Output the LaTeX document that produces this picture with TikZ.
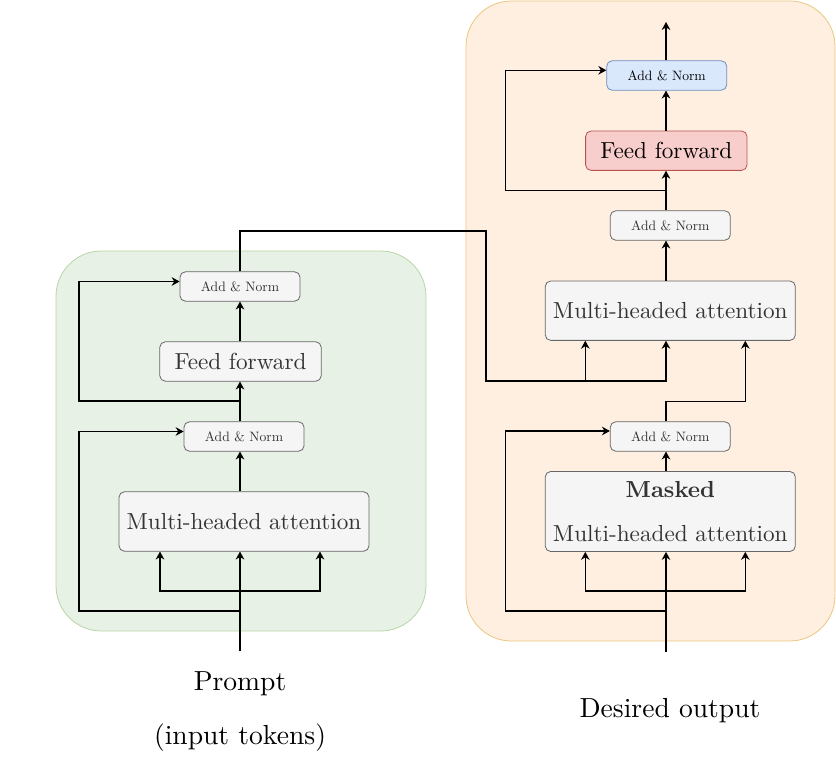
\documentclass[tikz,border=0pt]{standalone}
\usepackage{fontspec}
\setmainfont{lmroman10}[Extension=.otf, UprightFont=*-regular, BoldFont=*-bold, ItalicFont=*-italic]
\usepackage{xcolor}
\usepackage{tikz}
\usetikzlibrary{arrows.meta,calc}

\definecolor{boxfill}{HTML}{F5F5F5}
\definecolor{boxline}{HTML}{666666}
\definecolor{boxtext}{HTML}{333333}
\definecolor{encfill}{HTML}{E8F1E6}
\definecolor{encline}{HTML}{B7D5A4}
\definecolor{decfill}{HTML}{FFEFE1}
\definecolor{decline}{HTML}{EAC77E}
\definecolor{normfill}{HTML}{DAE8FC}
\definecolor{normline}{HTML}{6C8EBF}
\definecolor{fffill}{HTML}{F8CECC}
\definecolor{ffline}{HTML}{B85450}

\begin{document}
\begin{tikzpicture}[x=0.75pt, y=-0.75pt,
        blk/.style={draw=boxline, fill=boxfill, text=boxtext, rounded corners=4pt, line width=0.6pt, inner sep=0pt},
        norm/.style={blk, minimum width=90pt, minimum height=22pt, font=\fontsize{10.2}{12}\selectfont},
        ffbox/.style={blk, minimum width=121pt, minimum height=29.5pt, font=\fontsize{17.4}{20}\selectfont},
        mha/.style={blk, minimum width=187.5pt, minimum height=44.5pt, font=\fontsize{17.4}{20}\selectfont},
        arr/.style={-{Stealth[length=6pt, width=6.5pt, inset=2pt]}, line width=0.8pt},
        caption/.style={font=\fontsize{20.7}{24}\selectfont}]
    \useasboundingbox (0,0) rectangle (836,777);

    % background blocks
    \draw[fill=encfill, draw=encline, line width=0.6pt, rounded corners=34pt] (56,251) rectangle (426,631);
    \draw[fill=decfill, draw=decline, line width=0.6pt, rounded corners=34pt] (466,1) rectangle (835,641);

    % encoder
    \node[norm] (lnormB) at (240,286.5) {Add \& Norm};
    \node[ffbox] (lff) at (240.5,361.5) {Feed forward};
    \node[norm] (lnormA) at (244,436.5) {Add \& Norm};
    \node[mha] (lmha) at (244,521.5) {Multi-headed attention};

    \coordinate (lin) at (240,651);
    \coordinate (lsplit) at (240,591);
    \coordinate (lskip) at (240,611);
    \coordinate (lres) at (240,401);

    \draw[arr] (lin) -- (lin |- lmha.south);
    \draw[arr] (lsplit) -| ($(lin |- lmha.south)+(-80,0)$);
    \draw[arr] (lsplit) -| ($(lin |- lmha.south)+(80,0)$);
    \draw[arr] (lskip) -- ++(-161,0) |- ($(lnormA.west)+(0,-5)$);
    \draw[arr] (lin |- lmha.north) -- (lin |- lnormA.south);
    \draw[arr] (lin |- lnormA.north) -- (lin |- lff.south);
    \draw[arr] (lres) -- ++(-161,0) |- ($(lnormB.west)+(0,-5)$);
    \draw[arr] (lin |- lff.north) -- (lin |- lnormB.south);

    % decoder
    \node[norm, fill=normfill, draw=normline, text=black] (rnormC) at (666.7,75.5) {Add \& Norm};
    \node[ffbox, fill=fffill, draw=ffline, text=black] (rff) at (666.3,150.7) {Feed forward};
    \node[norm] (rnormB) at (670.3,225.5) {Add \& Norm};
    \node[mha] (rmha) at (670.3,310.7) {Multi-headed attention};
    \node[norm] (rnormA) at (670.3,436.5) {Add \& Norm};
    \node[mha, minimum height=60pt, align=center, font=\fontsize{17.4}{33}\selectfont] (rmask) at (670.3,511.5)
        {\textbf{Masked}\\Multi-headed attention};

    \coordinate (rin) at (666,651.7);
    \coordinate (rsplit) at (666,591);
    \coordinate (rskip) at (666,611);
    \coordinate (rmid) at (666,401.7);
    \coordinate (rres) at (666,190.3);
    \coordinate (rout) at (666,22);
    \coordinate (cross) at (486,381);

    \draw[arr] (rin) -- (rin |- rmask.south);
    \draw[arr] (rsplit) -| ($(rin |- rmask.south)+(-80.7,0)$);
    \draw[arr] (rsplit) -| ($(rin |- rmask.south)+(79.3,0)$);
    \draw[arr] (rskip) -- ++(-160.7,0) |- ($(rnormA.west)+(0,-5.5)$);
    \draw[arr] (rin |- rmask.north) -- (rin |- rnormA.south);
    \draw[arr] (rin |- rnormA.north) -- (rmid) -| ($(rin |- rmha.south)+(79.3,0)$);
    \draw[arr] (rin |- rmha.north) -- (rin |- rnormB.south);
    \draw[arr] (rin |- rnormB.north) -- (rin |- rff.south);
    \draw[arr] (rres) -- ++(-160.7,0) |- ($(rnormC.west)+(0,-5.2)$);
    \draw[arr] (rin |- rff.north) -- (rin |- rnormC.south);
    \draw[arr] (rin |- rnormC.north) -- (rout);

    % encoder output into decoder
    \draw[arr] (lin |- lnormB.north) -- (240,231) -| (cross) -| (rin |- rmha.south);
    \draw[arr] (cross) -| ($(rin |- rmha.south)+(-80.7,0)$);

    % captions
    \node[caption] (prompt) at (240,684) {Prompt};
    \node[caption] (tokens) at (240,738) {(input tokens)};
    \node[caption] (desired) at (670,711) {Desired output};
\end{tikzpicture}
\end{document}
